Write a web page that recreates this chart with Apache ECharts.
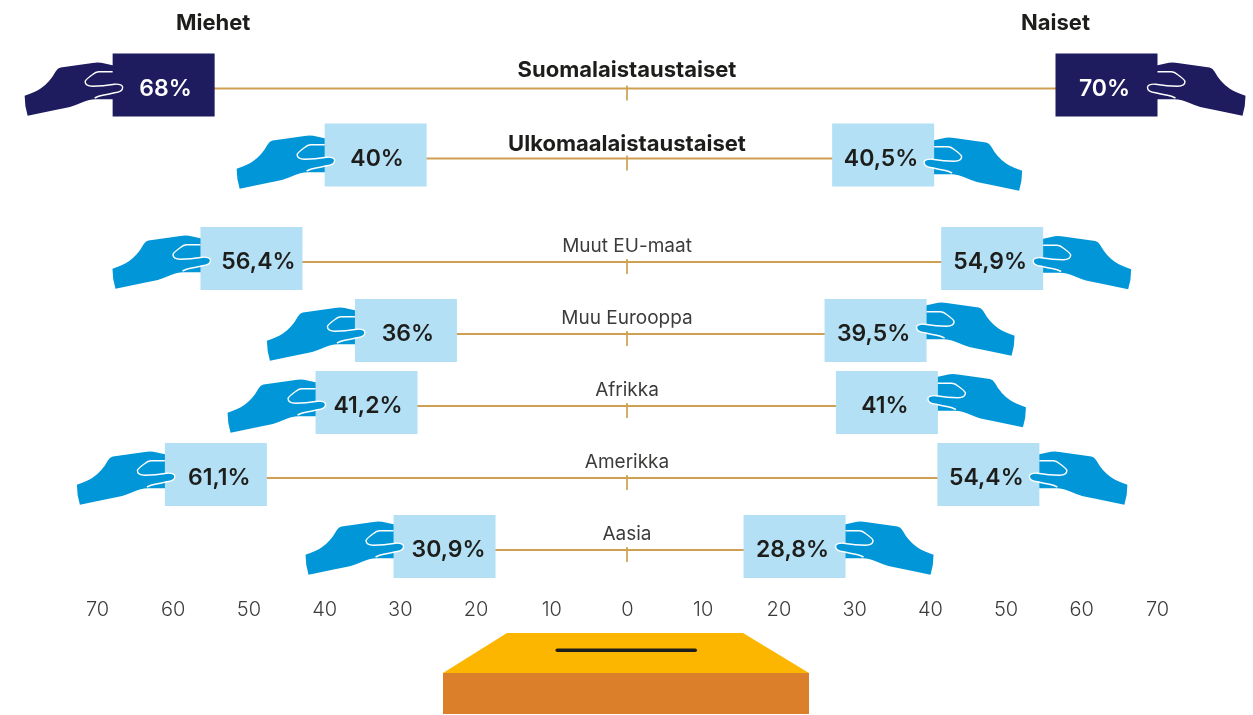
<!DOCTYPE html>
<html><head><meta charset="utf-8">
<style>html,body{margin:0;padding:0;background:#fff}#c{width:1253px;height:715px}</style>
<script src="https://cdn.jsdelivr.net/npm/echarts@6/dist/echarts.min.js"></script>
</head><body><div id="c"></div>
<script>
const originCategories = ['Suomalaistaustaiset', 'Ulkomaalaistaustaiset'];
const originMen = [68, 40];
const originWomen = [70, 40.5];
const regionCategories = ['Muut EU-maat', 'Muu Eurooppa', 'Afrikka', 'Amerikka', 'Aasia'];
const regionMen = [56.4, 36, 41.2, 61.1, 30.9];
const regionWomen = [54.9, 39.5, 41, 54.4, 28.8];
const headers = ['Miehet', 'Naiset'];

const FONT = 'Inter, "Open Sans", sans-serif';
const INK = '#1d1d1b', GOLD = '#cfa052', NAVY = '#1e1b5e', BLUE = '#0096d8', PALE = '#b3e0f5';
const BOX_W = 102, BOX_H = 63, BOX_UP = 35;
// Small per-row nudges of the hand drawing and of the label inside the box.
const HAND_SHIFT = {men: [[-3, 0], [-3.5, -3.5, -3.5, -3.5, -5.5]], women: [[-3, 2], [-3, -8.5, -9, -3.5, -5.5]]};
const TEXT_SHIFT = {men: [[2, 1.5], [7, 2, 1.5, 3.5, 4]], women: [[-2, -2], [-2, -2, -2, -2, -2]]};

// Segments: [x,y] = line to, [cx,cy,x,y] = quadratic to; the first one is a move.
const HAND = [[1,15],[-8,13],[-14,11.5,-20,12.5],[-52,17],[-55,17.5,-57,21],[-63,32,-72,38],[-78,42,-88,45.3],
  [-88,56,-85,65.3],[-55,59],[-42,57,-32,52.5],[-24,48.5,-16,48.7],[1,48.7]];
const THUMB = [[-6,34.6],[2,33.7],[10,33.3,10,37],[10,41.5,2,42.3],[-2,43.2,-6,44]];
const CREASE = [[0,21.3],[-14,21.3],[-17,21.3,-20,24],[-27,29,-27.5,31],[-27.5,35.5,-20,35.8],[-10,35.5,2,33.7],
  [10,33.3,10,37],[10,41.5,2,42.3],[-5,44,-10,44.7],[-14,45.5,-18,47.5]];
echarts.graphic.registerShape('handPath', echarts.graphic.extendShape({
  shape: {segs: [], closed: true},
  buildPath(ctx, s) {
    s.segs.forEach((p, i) => {
      if (i === 0) ctx.moveTo(p[0], p[1]);
      else if (p.length === 2) ctx.lineTo(p[0], p[1]);
      else ctx.quadraticCurveTo(p[0], p[1], p[2], p[3]);
    });
    if (s.closed) ctx.closePath();
  }
}));

const fmt = v => String(v).replace('.', ',') + '%';

function connector(gridIndex, cats, men, women) {
  return {
    type: 'custom', xAxisIndex: gridIndex, yAxisIndex: gridIndex, silent: true, z: 1,
    data: men.map((m, i) => [-m, women[i], i]),
    encode: {x: [0, 1], y: 2},
    renderItem(params, api) {
      const a = api.coord([api.value(0), api.value(2)]);
      const b = api.coord([api.value(1), api.value(2)]);
      const z = api.coord([0, api.value(2)]);
      const bold = gridIndex === 0;
      const lift = gridIndex === 0 ? (params.dataIndex === 0 ? 18 : 14.5) : 15.5;
      return {type: 'group', children: [
        {type: 'line', shape: {x1: a[0], y1: a[1], x2: b[0], y2: b[1]}, style: {stroke: GOLD, lineWidth: 2}},
        {type: 'line', shape: {x1: z[0] - 0.5, y1: z[1] - 3, x2: z[0] - 0.5, y2: z[1] + 12}, style: {stroke: GOLD, lineWidth: 2, opacity: .85}},
        {type: 'text', style: {text: cats[params.dataIndex], x: z[0] - 0.5, y: z[1] - lift, textAlign: 'center', textVerticalAlign: 'middle',
          font: (bold ? '700 22px ' : '400 19px ') + FONT, fill: bold ? INK : '#3c3c3b'}}
      ]};
    }
  };
}

function voters(gridIndex, side, values) {
  const key = side < 0 ? 'men' : 'women';
  return {
    type: 'custom', xAxisIndex: gridIndex, yAxisIndex: gridIndex, silent: true, z: 3,
    data: values.map((v, i) => [side * v, i]),
    encode: {x: 0, y: 1},
    renderItem(params, api) {
      const p = api.coord([api.value(0), api.value(1)]);
      const row = params.dataIndex;
      const dark = gridIndex === 0 && row === 0;
      const top = p[1] - BOX_UP;
      const boxX = side < 0 ? p[0] : p[0] - BOX_W;
      const fill = dark ? NAVY : BLUE;
      const place = {x: p[0], y: top + HAND_SHIFT[key][gridIndex][row], scaleX: side < 0 ? 1 : -1};
      return {type: 'group', children: [
        Object.assign({type: 'handPath', shape: {segs: HAND, closed: true}, style: {fill}, z2: 1}, place),
        {type: 'rect', shape: {x: boxX, y: top, width: BOX_W, height: BOX_H}, style: {fill: dark ? NAVY : PALE}, z2: 2},
        Object.assign({type: 'handPath', shape: {segs: THUMB, closed: true}, style: {fill}, z2: 3}, place),
        Object.assign({type: 'handPath', shape: {segs: CREASE, closed: false}, style: {fill: null, stroke: '#fff', lineWidth: 1.4}, z2: 4}, place),
        {type: 'text', z2: 5, style: {text: fmt(Math.abs(api.value(0))), x: boxX + BOX_W / 2 + TEXT_SHIFT[key][gridIndex][row], y: p[1] + 0.5, textAlign: 'center', textVerticalAlign: 'middle',
          font: '600 23px ' + FONT, fill: dark ? '#fff' : INK}}
      ]};
    }
  };
}

const chart = echarts.init(document.getElementById('c'), null, {renderer: 'canvas'});
const xAxis = show => ({
  type: 'value', min: -70, max: 70, interval: 10, show,
  axisLine: {show: false}, axisTick: {show: false}, splitLine: {show: false},
  axisLabel: {show, margin: 14, fontFamily: FONT, fontSize: 20, fontWeight: 300, color: '#3c3c3b', formatter: v => Math.abs(v)}
});
const yAxis = (gridIndex, data) => ({type: 'category', gridIndex, data, inverse: true, show: false});
chart.setOption({
  animation: false,
  backgroundColor: '#fff',
  grid: [
    {left: 97.5, width: 1060, top: 53.5, height: 140},
    {left: 97.5, width: 1060, top: 226, height: 360}
  ],
  xAxis: [Object.assign(xAxis(false), {gridIndex: 0}), Object.assign(xAxis(true), {gridIndex: 1})],
  yAxis: [yAxis(0, originCategories), yAxis(1, regionCategories)],
  series: [
    connector(0, originCategories, originMen, originWomen),
    connector(1, regionCategories, regionMen, regionWomen),
    voters(0, -1, originMen), voters(0, 1, originWomen),
    voters(1, -1, regionMen), voters(1, 1, regionWomen)
  ],
  graphic: [
    {type: 'text', left: 176, top: 12, style: {text: headers[0], font: '700 22px ' + FONT, fill: INK}},
    {type: 'text', left: 1021, top: 12, style: {text: headers[1], font: '700 22px ' + FONT, fill: INK}},
    {type: 'polygon', shape: {points: [[507,633],[743,633],[809,673],[443,673]]}, style: {fill: '#fdb600'}},
    {type: 'rect', shape: {x: 443, y: 673, width: 366, height: 41}, style: {fill: '#db7f2b'}},
    {type: 'rect', shape: {x: 555.5, y: 648.5, width: 141.5, height: 3.5, r: 1.75}, style: {fill: INK}}
  ]
});
</script></body></html>
